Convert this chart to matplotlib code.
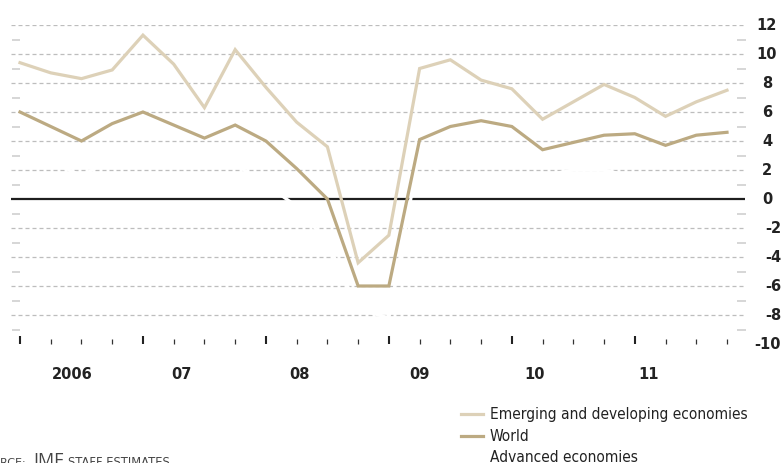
import matplotlib
matplotlib.use("Agg")
import matplotlib.pyplot as plt
import matplotlib.transforms as mtransforms
from matplotlib.lines import Line2D
from matplotlib import font_manager

# ---------------- data ----------------
quarters = [f"{y}Q{q}" for y in range(2006, 2012) for q in range(1, 5)]
emerging = [9.4, 8.7, 8.3, 8.9, 11.3, 9.3, 6.3, 10.3,
            7.7, 5.3, 3.6, -4.4, -2.5, 9.0, 9.6, 8.2,
            7.6, 5.5, 6.7, 7.9, 7.0, 5.7, 6.7, 7.5]
world = [6.0, 5.0, 4.0, 5.2, 6.0, 5.1, 4.2, 5.1,
         4.0, 2.1, 0.0, -6.0, -6.0, 4.1, 5.0, 5.4,
         5.0, 3.4, 3.9, 4.4, 4.5, 3.7, 4.4, 4.6]
advanced = [3.2, 2.6, 1.6, 2.8, 2.4, 2.8, 2.6, 2.4,
            1.0, -0.5, -3.0, -7.6, -8.2, 3.3, 0.8, 1.5,
            1.2, 1.6, 2.0, 2.0, 1.5, 1.0, 1.4, 1.6]
year_labels = ["2006", "07", "08", "09", "10", "11"]
y_ticks = [12, 10, 8, 6, 4, 2, 0, -2, -4, -6, -8, -10]
series_names = ["Emerging and developing economies", "World", "Advanced economies"]

# ---------------- fonts ----------------
entries = font_manager.fontManager.ttflist
names = {f.name for f in entries}
STRETCH = "normal"
if "Liberation Sans Narrow" in names:
    FAM = ["Liberation Sans Narrow", "DejaVu Sans"]
elif any(f.name == "DejaVu Sans" and str(f.stretch) in ("condensed", "semi-condensed")
         for f in entries) or "DejaVu Sans Condensed" in names:
    FAM = ["DejaVu Sans", "DejaVu Sans"]
    STRETCH = "condensed"
else:
    FAM = ["Roboto", "DejaVu Sans"]
plt.rcParams["font.family"] = FAM

# ---------------- style ----------------
W, H = 782, 464
C_EM = "#ddd1b8"
C_WO = "#bcaa82"
fig = plt.figure(figsize=(W / 100, H / 100), dpi=100)
renderer = fig.canvas.get_renderer()


def fx(x):
    return x / W


def fy(y):
    return 1 - y / H


def fit(t, target_w, fs):
    t.set_fontsize(fs)
    w = t.get_window_extent(renderer=renderer).width
    if w > 0:
        t.set_fontsize(fs * target_w / w)


# plot area: x 11..745 px, y 26..345 px
ax = fig.add_axes([fx(11), fy(345), (745 - 11) / W, (345 - 26) / H])
step = 30.75
ax.set_xlim(-9 / step, 23 + 18 / step)
ax.set_ylim(-10, 12)
ax.axis("off")

x = list(range(len(quarters)))

# gridlines (even values)
for v in y_ticks:
    if v in (0, -10):
        continue
    ax.axhline(v, color="#bdbdbd", lw=0.9, linestyle=(0, (3.2, 2.4)), zorder=1)
# odd-value side dashes
ytr = ax.get_yaxis_transform()
for v in range(-9, 12, 2):
    ax.plot([1 / 734, 9 / 734], [v, v], transform=ytr, color="#cccccc", lw=1.1,
            solid_capstyle="butt", zorder=1, clip_on=False)
    ax.plot([726 / 734, 735 / 734], [v, v], transform=ytr, color="#cccccc", lw=1.1,
            solid_capstyle="butt", zorder=1, clip_on=False)

# zero line
ax.axhline(0, color="#1e1e1e", lw=1.6, zorder=2)
# baseline
ax.axhline(-10, color="#777777", lw=0.7, zorder=2)

# ticks on baseline
for i in x:
    if i % 4 == 0:
        ax.plot([i, i], [-10, -10 + 8 / 14.5], color="#222222", lw=1.5,
                solid_capstyle="butt", zorder=3, clip_on=False)
    else:
        ax.plot([i, i], [-10, -10 + 5 / 14.5], color="#333333", lw=0.9,
                solid_capstyle="butt", zorder=3, clip_on=False)

# series
ax.plot(x, advanced, color="white", lw=2.3, zorder=4, solid_joinstyle="miter")
ax.plot(x, emerging, color=C_EM, lw=2.3, zorder=5, solid_joinstyle="miter")
ax.plot(x, world, color=C_WO, lw=2.3, zorder=6, solid_joinstyle="miter")

# y tick labels on right
btr = mtransforms.blended_transform_factory(fig.transFigure, ax.transData)
ref_t = fig.text(0, 0, "12", fontsize=12, fontweight="bold", fontstretch=STRETCH)
fit(ref_t, 18, 12)
tick_fs = ref_t.get_fontsize() * 1.12
ref_t.remove()
for v in y_ticks:
    if v >= 0:
        ax.text(fx(767), v, f"{v}", transform=btr, ha="center", va="center",
                fontsize=tick_fs, fontweight="bold", fontstretch=STRETCH,
                color="#222222")
    else:
        ax.text(fx(781), v, f"-{abs(v)}", transform=btr, ha="right", va="center",
                fontsize=tick_fs, fontweight="bold", fontstretch=STRETCH,
                color="#222222")

# x year labels
label_pos = [1.69, 5.24, 9.1, 13.0, 16.75, 20.45]
xtr = mtransforms.blended_transform_factory(ax.transData, fig.transFigure)
for p, lab in zip(label_pos, year_labels):
    ax.text(p, fy(375), lab, transform=xtr, ha="center", va="center",
            fontsize=tick_fs, fontweight="bold", fontstretch=STRETCH,
            color="#222222")

# legend (manual)
leg_y = [415, 437, 458]
leg_c = [C_EM, C_WO, "white"]
leg_texts = []
for name, yy, c in zip(series_names, leg_y, leg_c):
    fig.add_artist(Line2D([fx(461), fx(483)], [fy(yy), fy(yy)], color=c, lw=2.3,
                          transform=fig.transFigure))
    leg_texts.append(fig.text(fx(490), fy(yy), name, ha="left", va="center",
                              fontsize=12, fontstretch=STRETCH, color="#222222"))
fit(leg_texts[0], 257, 12)
for t in leg_texts[1:]:
    t.set_fontsize(leg_texts[0].get_fontsize())

# source
SRC = ["Open Sans", "DejaVu Sans"]
fig.text(fx(26), fy(466), "SOURCE:", ha="right", va="baseline", fontsize=8,
         color="#444444", family=["DejaVu Sans"])
fig.text(fx(33), fy(466), "IMF", ha="left", va="baseline", fontsize=13,
         color="#444444", family=SRC)
fig.text(fx(68), fy(466), "STAFF ESTIMATES", ha="left", va="baseline",
         fontsize=8.3, color="#444444", family=["DejaVu Sans"])

fig.savefig("out.png", dpi=100)
